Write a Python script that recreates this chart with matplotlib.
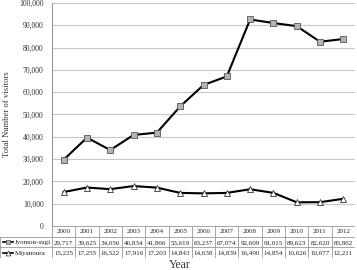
import numpy as np
import matplotlib
matplotlib.use("Agg")
import matplotlib.pyplot as plt
from matplotlib.lines import Line2D

# ================================
# DATA
# ================================
years = ["2000", "2001", "2002", "2003", "2004", "2005", "2006",
         "2007", "2008", "2009", "2010", "2011", "2012"]
jyomon_sugi = [29717, 39625, 34056, 40834, 41866, 53619, 63237,
               67074, 92609, 91015, 89623, 82620, 83862]
miyanoura = [15225, 17255, 16522, 17916, 17203, 14843, 14638,
             14839, 16490, 14854, 10626, 10677, 12211]
series_names = ["Jyomon-sugi", "Miyanoura"]
y_ticks = np.arange(0, 100001, 10000)

plt.rcParams['font.family'] = ['Liberation Serif', 'DejaVu Serif']

W, H = 357, 270
fig = plt.figure(figsize=(W / 100, H / 100), dpi=100)

# pixel geometry
x_left, x_right = 52, 355
y_top, y_zero = 3, 226
row_h = 10.7

ax = fig.add_axes([x_left / W, (H - y_zero) / H,
                   (x_right - x_left) / W, (y_zero - y_top) / H])
x = np.arange(len(years))

ax.plot(x, jyomon_sugi, color='black', lw=1.5, marker='s', ms=4.5,
        mfc='#b4b4b4', mec='#555555', mew=0.6, zorder=3)
ax.plot(x, miyanoura, color='black', lw=1.5, marker='^', ms=5,
        mfc='white', mec='#333333', mew=0.6, zorder=3)

ax.set_xlim(-0.5, len(years) - 0.5)
ax.set_ylim(0, 100000)
ax.set_yticks(y_ticks)
ax.set_yticklabels([f"{v:,}" for v in y_ticks], fontsize=5.5, color='#333333')
ax.set_xticks([])
ax.tick_params(axis='y', length=0, pad=6)
ax.grid(axis='y', color='#c8c8c8', lw=0.8)
ax.set_axisbelow(True)
for s in ['top', 'right', 'bottom']:
    ax.spines[s].set_visible(False)
ax.spines['left'].set_color('#999999')
ax.spines['left'].set_linewidth(0.8)
ax.set_ylabel("Total Number of visitors", fontsize=6.2, color='#333333', labelpad=4)
ax.yaxis.set_label_coords(-41 / (x_right - x_left), 0.5)

# ================================
# DATA TABLE
# ================================
col_w = (x_right - x_left) / len(years)
tab_bottom = y_zero + 3 * row_h
tax = fig.add_axes([0, (H - tab_bottom) / H, x_right / W, 3 * row_h / H])
tax.set_xlim(-0.5 - x_left / col_w, len(years) - 0.5)
tax.set_ylim(3, 0)
tax.axis('off')

grid_c = '#999999'
x0 = -0.5 - x_left / col_w + 0.02
xe = len(years) - 0.5
# horizontal lines
tax.plot([-0.5, xe], [0, 0], color=grid_c, lw=0.6)
for r in [1, 2, 3]:
    tax.plot([x0, xe], [r, r], color=grid_c, lw=0.6)
# vertical lines
for i in range(len(years) + 1):
    tax.plot([i - 0.5, i - 0.5], [0, 3], color=grid_c, lw=0.6)
tax.plot([x0, x0], [1, 3], color=grid_c, lw=0.6)

for i, yr in enumerate(years):
    tax.text(i, 0.55, yr, ha='center', va='center', fontsize=5, color='#222222')
    tax.text(i, 1.55, f"{jyomon_sugi[i]:,}", ha='center', va='center',
             fontsize=5, color='#222222')
    tax.text(i, 2.55, f"{miyanoura[i]:,}", ha='center', va='center',
             fontsize=5, color='#222222')

# legend keys
styles = [dict(marker='s', ms=3, mfc='#b4b4b4', mec='#555555'),
          dict(marker='^', ms=3.5, mfc='white', mec='#333333')]
kx = x0 + 0.1
for r, (name, st) in enumerate(zip(series_names, styles)):
    yy = 1.5 + r
    tax.add_line(Line2D([kx, kx + 0.45], [yy, yy], color='black', lw=1.2))
    tax.plot([kx + 0.225], [yy], mew=0.5, **st)
    tax.text(kx + 0.5, yy + 0.05, name, ha='left', va='center',
             fontsize=5, color='#222222')

fig.text(180 / W, 1 - 265 / H, "Year", ha='center', va='center',
         fontsize=8.5, color='#333333')

fig.savefig("out.png", dpi=100)
